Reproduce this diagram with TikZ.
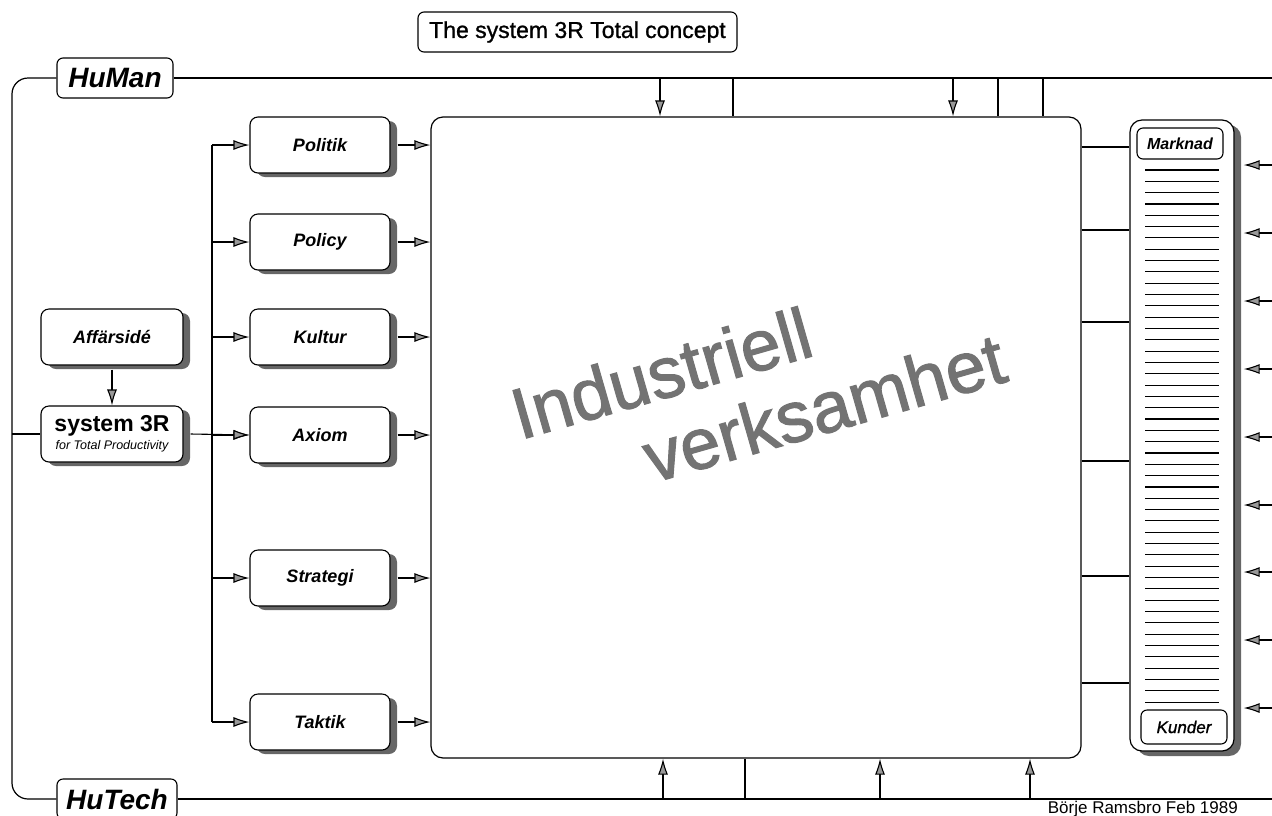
\documentclass[tikz,border=0pt]{standalone}
\usepackage{fontspec}
\setmainfont{Liberation Sans}
\usetikzlibrary{arrows.meta,shadows}
\tikzset{
  ln/.style={line width=1.2pt},
  arr/.style={line width=1.1pt, -{Latex[length=16pt,width=10pt,fill=black!40]}},
  shad/.style={drop shadow={shadow xshift=7pt,shadow yshift=-4pt,fill=black!60,opacity=1}},
  box/.style={draw, line width=1.1pt, rounded corners=8pt, fill=white, shad, minimum width=140pt, minimum height=56pt, inner sep=2pt, font=\fontsize{18}{20}\selectfont\bfseries\itshape},
  lbl/.style={draw, line width=1.1pt, rounded corners=6pt, fill=white, inner sep=2pt},
}
\begin{document}
\begin{tikzpicture}[x=1pt,y=-1pt]
\useasboundingbox (0,0) rectangle (1272,815);
% title
\node[lbl, minimum width=319pt, minimum height=40pt, font=\fontsize{23}{26}\selectfont\addfontfeatures{FakeBold=1}] (title) at (577.5,32) {The system 3R Total concept};
% frame
\node[lbl, minimum width=116pt, minimum height=40pt, font=\fontsize{28}{30}\selectfont\bfseries\itshape] (human) at (115,78) {HuMan};
\node[lbl, minimum width=120pt, minimum height=40pt, font=\fontsize{28}{30}\selectfont\bfseries\itshape] (hutech) at (117,799) {HuTech};
\coordinate (tr) at (1272,78);
\coordinate (br) at (1272,799);
\draw[ln] (human.east) -- (tr);
\draw[ln] (hutech.east) -- (br);
\draw[ln, rounded corners=16pt] (human.west) -- (12,78) -- (12,799) -- (hutech.west);
% big box
\node[draw, ln, rounded corners=12pt, minimum width=650pt, minimum height=641pt, inner sep=0pt] (ind) at (756,437.5) {};
\node[rotate=16, anchor=base west, align=left, font=\fontsize{72}{78}\selectfont\addfontfeatures{FakeBold=1.5}, text=black!55, inner sep=0pt] (txt) at (541.5,515) {Industriell\\\hspace*{115pt}verksamhet};
% top connectors
\foreach \x/\n in {660/ta, 953/tb} { \coordinate (\n) at (\x,78); \draw[arr] (\n) -- (\n |- ind.north); }
\foreach \x/\n in {733/tc, 998/td, 1043/te} { \coordinate (\n) at (\x,78); \draw[ln] (\n) -- (\n |- ind.north); }
% bottom connectors
\foreach \x/\n in {663/ba, 880/bb, 1030/bc} { \coordinate (\n) at (\x,799); \draw[arr] (\n) -- (\n |- ind.south); }
\foreach \x/\n in {745/bd} { \coordinate (\n) at (\x,799); \draw[ln] (\n) -- (\n |- ind.south); }
% middle boxes
\coordinate (bus) at (212,0);
\foreach \n/\y/\t in {pol/145/Politik, poc/242/Policy, kul/337/Kultur, axi/435/Axiom, str/578/Strategi, tak/722/Taktik} {
  \node[box] (\n) at (320,\y) {\t};
  \draw[arr] ([xshift=7pt]\n.east) -- (\n.east -| ind.west);
  \draw[arr] (\n.west -| bus) -- (\n.west);
}
\draw[ln] (pol.west -| bus) -- (tak.west -| bus);
% left boxes
\node[box, minimum width=142pt] (aff) at (112,337) {Affärsidé};
\node[box, minimum width=142pt, align=center, font=\normalfont] (sys) at (112,434) {{\fontsize{23}{22}\selectfont\bfseries system 3R}\\[3pt]{\fontsize{12.5}{13}\selectfont\itshape for Total Productivity}};
\draw[arr] ([yshift=-4pt]aff.south) -- (sys.north);
\coordinate (lf) at (12,434);
\draw[ln] (lf) -- (sys.west);
\draw[arr] ([xshift=7pt]sys.east) -- (axi.west);
% market bar
\node[draw, ln, rounded corners=12pt, fill=white, minimum width=104pt, minimum height=631pt, inner sep=0pt, drop shadow={shadow xshift=7pt,shadow yshift=-5pt,fill=black!60,opacity=1}] (bar) at (1182,435.5) {};
\node[lbl, minimum width=86pt, minimum height=31pt, font=\fontsize{16}{18}\selectfont\bfseries\itshape] (mark) at (1180,143.5) {Marknad};
\node[lbl, minimum width=86pt, minimum height=34pt, font=\fontsize{17}{18}\selectfont\itshape\addfontfeatures{FakeBold=1}] (kund) at (1184,727) {Kunder};
\foreach \i in {0,...,47} \draw[line width=1.1pt] (1145,{170+11.32*\i}) -- (1219,{170+11.32*\i});
\foreach \y in {147,230,322,461,576,683} \draw[ln] (ind.east |- 0,\y) -- (bar.west |- 0,\y);
\foreach \y/\n in {165/ra,233/rb,301/rc,369/rd,437/re,505/rf,572/rg,640/rh,708/ri} { \coordinate (\n) at (1272,\y); \draw[arr] (\n) -- ([xshift=9pt]bar.east |- \n); }
% signature
\node[anchor=base east, font=\fontsize{17}{18}\selectfont, inner sep=0pt] (sig) at (1238,813) {Börje Ramsbro Feb 1989};
\end{tikzpicture}
\end{document}
